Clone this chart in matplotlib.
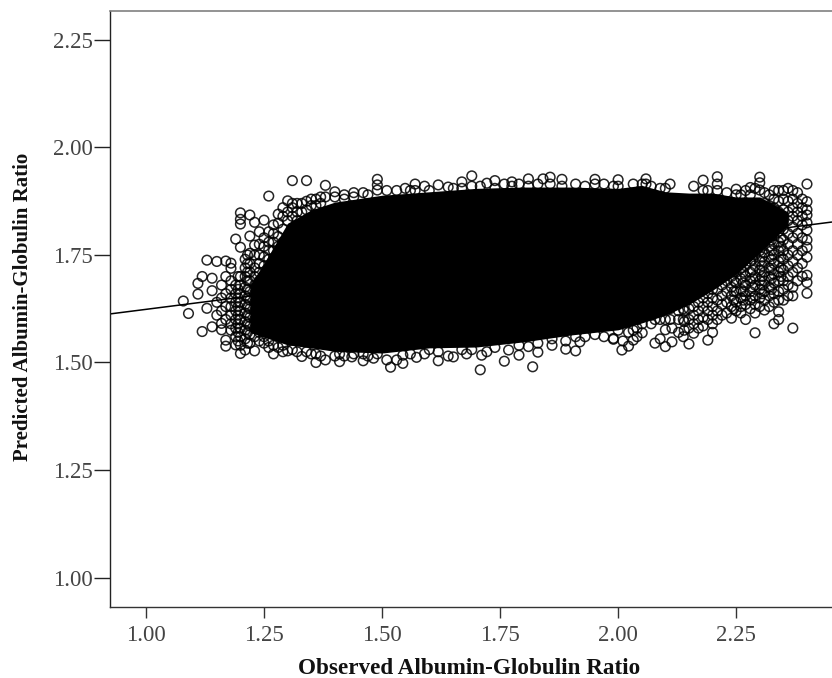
import matplotlib
matplotlib.use("Agg")
import matplotlib.pyplot as plt

x_ticks = [1.00, 1.25, 1.50, 1.75, 2.00, 2.25]
y_ticks = [1.00, 1.25, 1.50, 1.75, 2.00, 2.25]
x_label = "Observed Albumin-Globulin Ratio"
y_label = "Predicted Albumin-Globulin Ratio"

fit_x = [0.9227, 2.453]
fit_y = [1.6128, 1.8267]

# Region where the circles merge into solid black
core_x = [1.22, 1.25, 1.30, 1.35, 1.40, 1.50, 1.60, 1.70, 1.80, 1.90, 2.00, 2.05, 2.10, 2.15, 2.20, 2.25, 2.30, 2.36]
core_upper = [1.68, 1.731, 1.824, 1.855, 1.873, 1.889, 1.897, 1.905, 1.908, 1.908, 1.905, 1.912, 1.897, 1.894, 1.894, 1.885, 1.885, 1.85]
core_lower = [1.57, 1.559, 1.541, 1.534, 1.526, 1.522, 1.534, 1.536, 1.548, 1.564, 1.576, 1.592, 1.61, 1.635, 1.668, 1.705, 1.755, 1.82]

# Individually readable observations: x column -> y values
left_columns = {
    1.079: [1.643], 1.090: [1.614], 1.110: [1.684, 1.659], 1.119: [1.700, 1.572],
    1.129: [1.738, 1.626], 1.140: [1.696, 1.667, 1.583], 1.150: [1.735, 1.64, 1.61],
    1.160: [1.68, 1.65, 1.62, 1.591, 1.576], 1.169: [1.736, 1.70, 1.66, 1.63, 1.60, 1.552, 1.538],
    1.18: [1.731, 1.719, 1.69, 1.67, 1.65, 1.63, 1.61, 1.59, 1.575],
    1.19: [1.787, 1.68, 1.66, 1.64, 1.62, 1.60, 1.58, 1.56, 1.541],
    1.195: [1.70, 1.67, 1.65, 1.63, 1.61, 1.59, 1.57, 1.55],
    1.20: [1.848, 1.833, 1.822, 1.768, 1.70, 1.68, 1.66, 1.64, 1.62, 1.60, 1.58, 1.56, 1.54, 1.521],
    1.21: [1.74, 1.72, 1.70, 1.675, 1.655, 1.635, 1.615, 1.595, 1.575, 1.555, 1.529],
    1.215: [1.75, 1.73, 1.71, 1.69, 1.67, 1.65, 1.63, 1.61, 1.59, 1.57, 1.545],
    1.22: [1.843, 1.794, 1.754, 1.73, 1.71, 1.69, 1.665, 1.645, 1.625, 1.605, 1.585, 1.565, 1.545],
    1.23: [1.826, 1.773, 1.75, 1.72, 1.70, 1.68, 1.66, 1.64, 1.62, 1.60, 1.58, 1.56, 1.527],
    1.24: [1.804, 1.775, 1.75, 1.73, 1.71, 1.69, 1.67, 1.65, 1.63, 1.61, 1.59, 1.57, 1.55],
    1.25: [1.831, 1.79, 1.77, 1.746, 1.725, 1.56, 1.545],
    1.26: [1.887, 1.804, 1.78, 1.762, 1.74, 1.55, 1.535],
    1.27: [1.82, 1.80, 1.78, 1.76, 1.74, 1.54, 1.52],
    1.28: [1.845, 1.824, 1.793, 1.77, 1.75, 1.535],
    1.29: [1.86, 1.84, 1.81, 1.78, 1.54, 1.525],
    1.30: [1.876, 1.85, 1.83, 1.527],
    1.31: [1.923, 1.87, 1.86, 1.84, 1.53],
    1.32: [1.87, 1.85, 1.83, 1.525],
    1.33: [1.87, 1.85, 1.514],
    1.34: [1.923, 1.875, 1.855, 1.525],
    1.35: [1.88, 1.865, 1.52],
    1.36: [1.88, 1.865, 1.50, 1.52],
    1.37: [1.885, 1.87, 1.515],
    1.38: [1.912, 1.885, 1.506],
    1.40: [1.897, 1.885, 1.515],
    1.41: [1.502, 1.52],
    1.42: [1.89, 1.88, 1.515],
    1.436: [1.513],
    1.44: [1.895, 1.885, 1.52],
    1.46: [1.895, 1.504, 1.52],
    1.47: [1.89, 1.515],
    1.482: [1.51],
    1.49: [1.926, 1.913, 1.901, 1.52],
}

middle_columns = {
    1.51: [1.506, 1.90], 1.518: [1.489], 1.531: [1.506, 1.90], 1.544: [1.498, 1.517],
    1.549: [1.905], 1.56: [1.90, 1.52], 1.57: [1.915, 1.90], 1.573: [1.512], 1.59: [1.91, 1.52],
    1.60: [1.90, 1.53], 1.619: [1.913, 1.504, 1.525], 1.64: [1.908, 1.515], 1.651: [1.513, 1.905],
    1.669: [1.92, 1.905, 1.53], 1.679: [1.52], 1.69: [1.934, 1.91, 1.53], 1.708: [1.483, 1.91],
    1.711: [1.517], 1.722: [1.917, 1.525], 1.739: [1.923, 1.905, 1.535], 1.759: [1.503, 1.915],
    1.768: [1.529], 1.775: [1.92, 1.91], 1.79: [1.517, 1.915, 1.54], 1.81: [1.927, 1.537, 1.91],
    1.819: [1.49], 1.83: [1.524, 1.915, 1.545], 1.841: [1.927], 1.856: [1.931, 1.915],
    1.86: [1.54, 1.555], 1.881: [1.926, 1.91], 1.889: [1.531, 1.55], 1.91: [1.527, 1.915, 1.56],
    1.919: [1.548], 1.93: [1.91, 1.56], 1.951: [1.926, 1.915, 1.565], 1.97: [1.915, 1.56],
    1.99: [1.556, 1.554, 1.91], 2.0: [1.925, 1.91, 1.575], 2.008: [1.529], 2.01: [1.55],
    2.022: [1.538, 1.57], 2.032: [1.552, 1.575, 1.915], 2.04: [1.58, 1.60, 1.56], 2.051: [1.569, 1.59, 1.915],
    2.059: [1.927, 1.915], 2.07: [1.59, 1.61, 1.91], 2.078: [1.545, 1.60], 2.089: [1.555, 1.60, 1.62, 1.905],
    2.10: [1.537, 1.576, 1.60, 1.63, 1.905], 2.11: [1.915, 1.60, 1.625], 2.114: [1.548, 1.58],
    2.128: [1.57, 1.62, 1.60, 1.64], 2.138: [1.56, 1.60, 1.625, 1.645],
}

right_columns = {
    2.14: [1.62, 1.595, 1.575, 1.65],
    2.15: [1.625, 1.60, 1.58, 1.543, 1.65],
    2.16: [1.91, 1.63, 1.61, 1.59, 1.568, 1.66],
    2.17: [1.64, 1.62, 1.60, 1.58, 1.665],
    2.18: [1.924, 1.90, 1.65, 1.63, 1.605, 1.585, 1.675],
    2.19: [1.66, 1.64, 1.62, 1.60, 1.552, 1.69, 1.90],
    2.20: [1.67, 1.65, 1.63, 1.61, 1.59, 1.57, 1.695],
    2.21: [1.932, 1.915, 1.90, 1.69, 1.67, 1.645, 1.62, 1.60],
    2.22: [1.70, 1.68, 1.655, 1.635, 1.61, 1.72],
    2.23: [1.71, 1.69, 1.665, 1.64, 1.615, 1.735, 1.895],
    2.24: [1.72, 1.70, 1.675, 1.655, 1.63, 1.603, 1.745],
    2.245: [1.71, 1.69, 1.665, 1.645, 1.625],
    2.25: [1.903, 1.89, 1.75, 1.73, 1.71, 1.685, 1.665, 1.64, 1.62],
    2.26: [1.765, 1.745, 1.72, 1.695, 1.67, 1.65, 1.63, 1.615, 1.89],
    2.265: [1.735, 1.71, 1.685, 1.665, 1.645],
    2.27: [1.90, 1.775, 1.75, 1.725, 1.70, 1.68, 1.655, 1.635, 1.60],
    2.28: [1.907, 1.89, 1.785, 1.76, 1.735, 1.71, 1.69, 1.665, 1.645, 1.625],
    2.285: [1.76, 1.74, 1.715, 1.695, 1.675, 1.65],
    2.29: [1.905, 1.79, 1.77, 1.75, 1.725, 1.70, 1.68, 1.655, 1.635, 1.615, 1.569],
    2.30: [1.931, 1.918, 1.901, 1.80, 1.78, 1.76, 1.735, 1.715, 1.69, 1.67, 1.65, 1.63],
    2.305: [1.79, 1.77, 1.745, 1.725, 1.70, 1.68, 1.66],
    2.31: [1.895, 1.87, 1.85, 1.825, 1.80, 1.78, 1.755, 1.735, 1.71, 1.69, 1.665, 1.645, 1.622],
    2.32: [1.89, 1.865, 1.84, 1.815, 1.79, 1.77, 1.745, 1.72, 1.70, 1.675, 1.655, 1.63],
    2.325: [1.81, 1.785, 1.76, 1.74, 1.715, 1.695, 1.67],
    2.33: [1.90, 1.88, 1.86, 1.84, 1.82, 1.795, 1.775, 1.75, 1.73, 1.705, 1.685, 1.66, 1.64, 1.59],
    2.34: [1.90, 1.875, 1.85, 1.83, 1.805, 1.78, 1.76, 1.735, 1.71, 1.69, 1.665, 1.645, 1.618, 1.60],
    2.345: [1.84, 1.815, 1.79, 1.77, 1.745, 1.72, 1.70],
    2.35: [1.90, 1.88, 1.855, 1.83, 1.81, 1.785, 1.76, 1.74, 1.715, 1.69, 1.67, 1.645],
    2.36: [1.905, 1.875, 1.85, 1.83, 1.80, 1.775, 1.75, 1.725, 1.70, 1.68, 1.655],
    2.37: [1.90, 1.88, 1.86, 1.84, 1.815, 1.79, 1.76, 1.735, 1.71, 1.675, 1.655, 1.58],
    2.38: [1.895, 1.87, 1.85, 1.83, 1.80, 1.775, 1.75, 1.72, 1.69],
    2.39: [1.88, 1.86, 1.84, 1.82, 1.79, 1.76, 1.73, 1.70],
    2.40: [1.915, 1.874, 1.855, 1.843, 1.825, 1.808, 1.785, 1.768, 1.745, 1.703, 1.686, 1.661],
}

plt.rcParams["font.family"] = ["Liberation Serif", "DejaVu Serif"]
fig = plt.figure(figsize=(8.32, 6.78), dpi=100)
ax = fig.add_axes([109.5 / 832, 70.7 / 678, 1 - 109.5 / 832, 667.5 / 678 - 70.7 / 678])
ax.set_xlim(0.9227, 2.453)
ax.set_ylim(0.9307, 2.3186)

ax.plot(fit_x, fit_y, color="black", lw=1.1, zorder=1, solid_capstyle="butt")
ax.fill_between(core_x, core_lower, core_upper, color="black", lw=0, zorder=2)
for columns in (left_columns, middle_columns, right_columns):
    xs = [x for x, ys in columns.items() for _ in ys]
    ys = [y for col in columns.values() for y in col]
    ax.scatter(xs, ys, s=48, facecolors="none", edgecolors="black", linewidths=1.1, alpha=0.85, zorder=3)

ax.spines["right"].set_visible(False)
ax.spines["top"].set_color("#808080")
ax.spines["top"].set_linewidth(1.2)
ax.spines["left"].set_linewidth(1.0)
ax.spines["bottom"].set_linewidth(1.0)
ax.spines["left"].set_color("#222222")
ax.spines["bottom"].set_color("#333333")

ax.set_xticks(x_ticks, [f"{v:.2f}" for v in x_ticks])
ax.set_yticks(y_ticks, [f"{v:.2f}" for v in y_ticks])
ax.tick_params(axis="x", length=8, width=1, color="#333333", labelsize=16.5, labelcolor="#444444", pad=5)
ax.tick_params(axis="y", length=11.5, width=1, color="#222222", labelsize=16.5, labelcolor="#444444", pad=0.5)

fig.text(469 / 832, 1 - 669 / 678, x_label, ha="center", va="center", fontsize=16.7, fontweight="bold", color="#111111")
fig.text(23 / 832, 1 - 307 / 678, y_label, ha="center", va="center", rotation=90, fontsize=15, fontweight="bold", color="#111111")

fig.savefig("out.png", dpi=100)
